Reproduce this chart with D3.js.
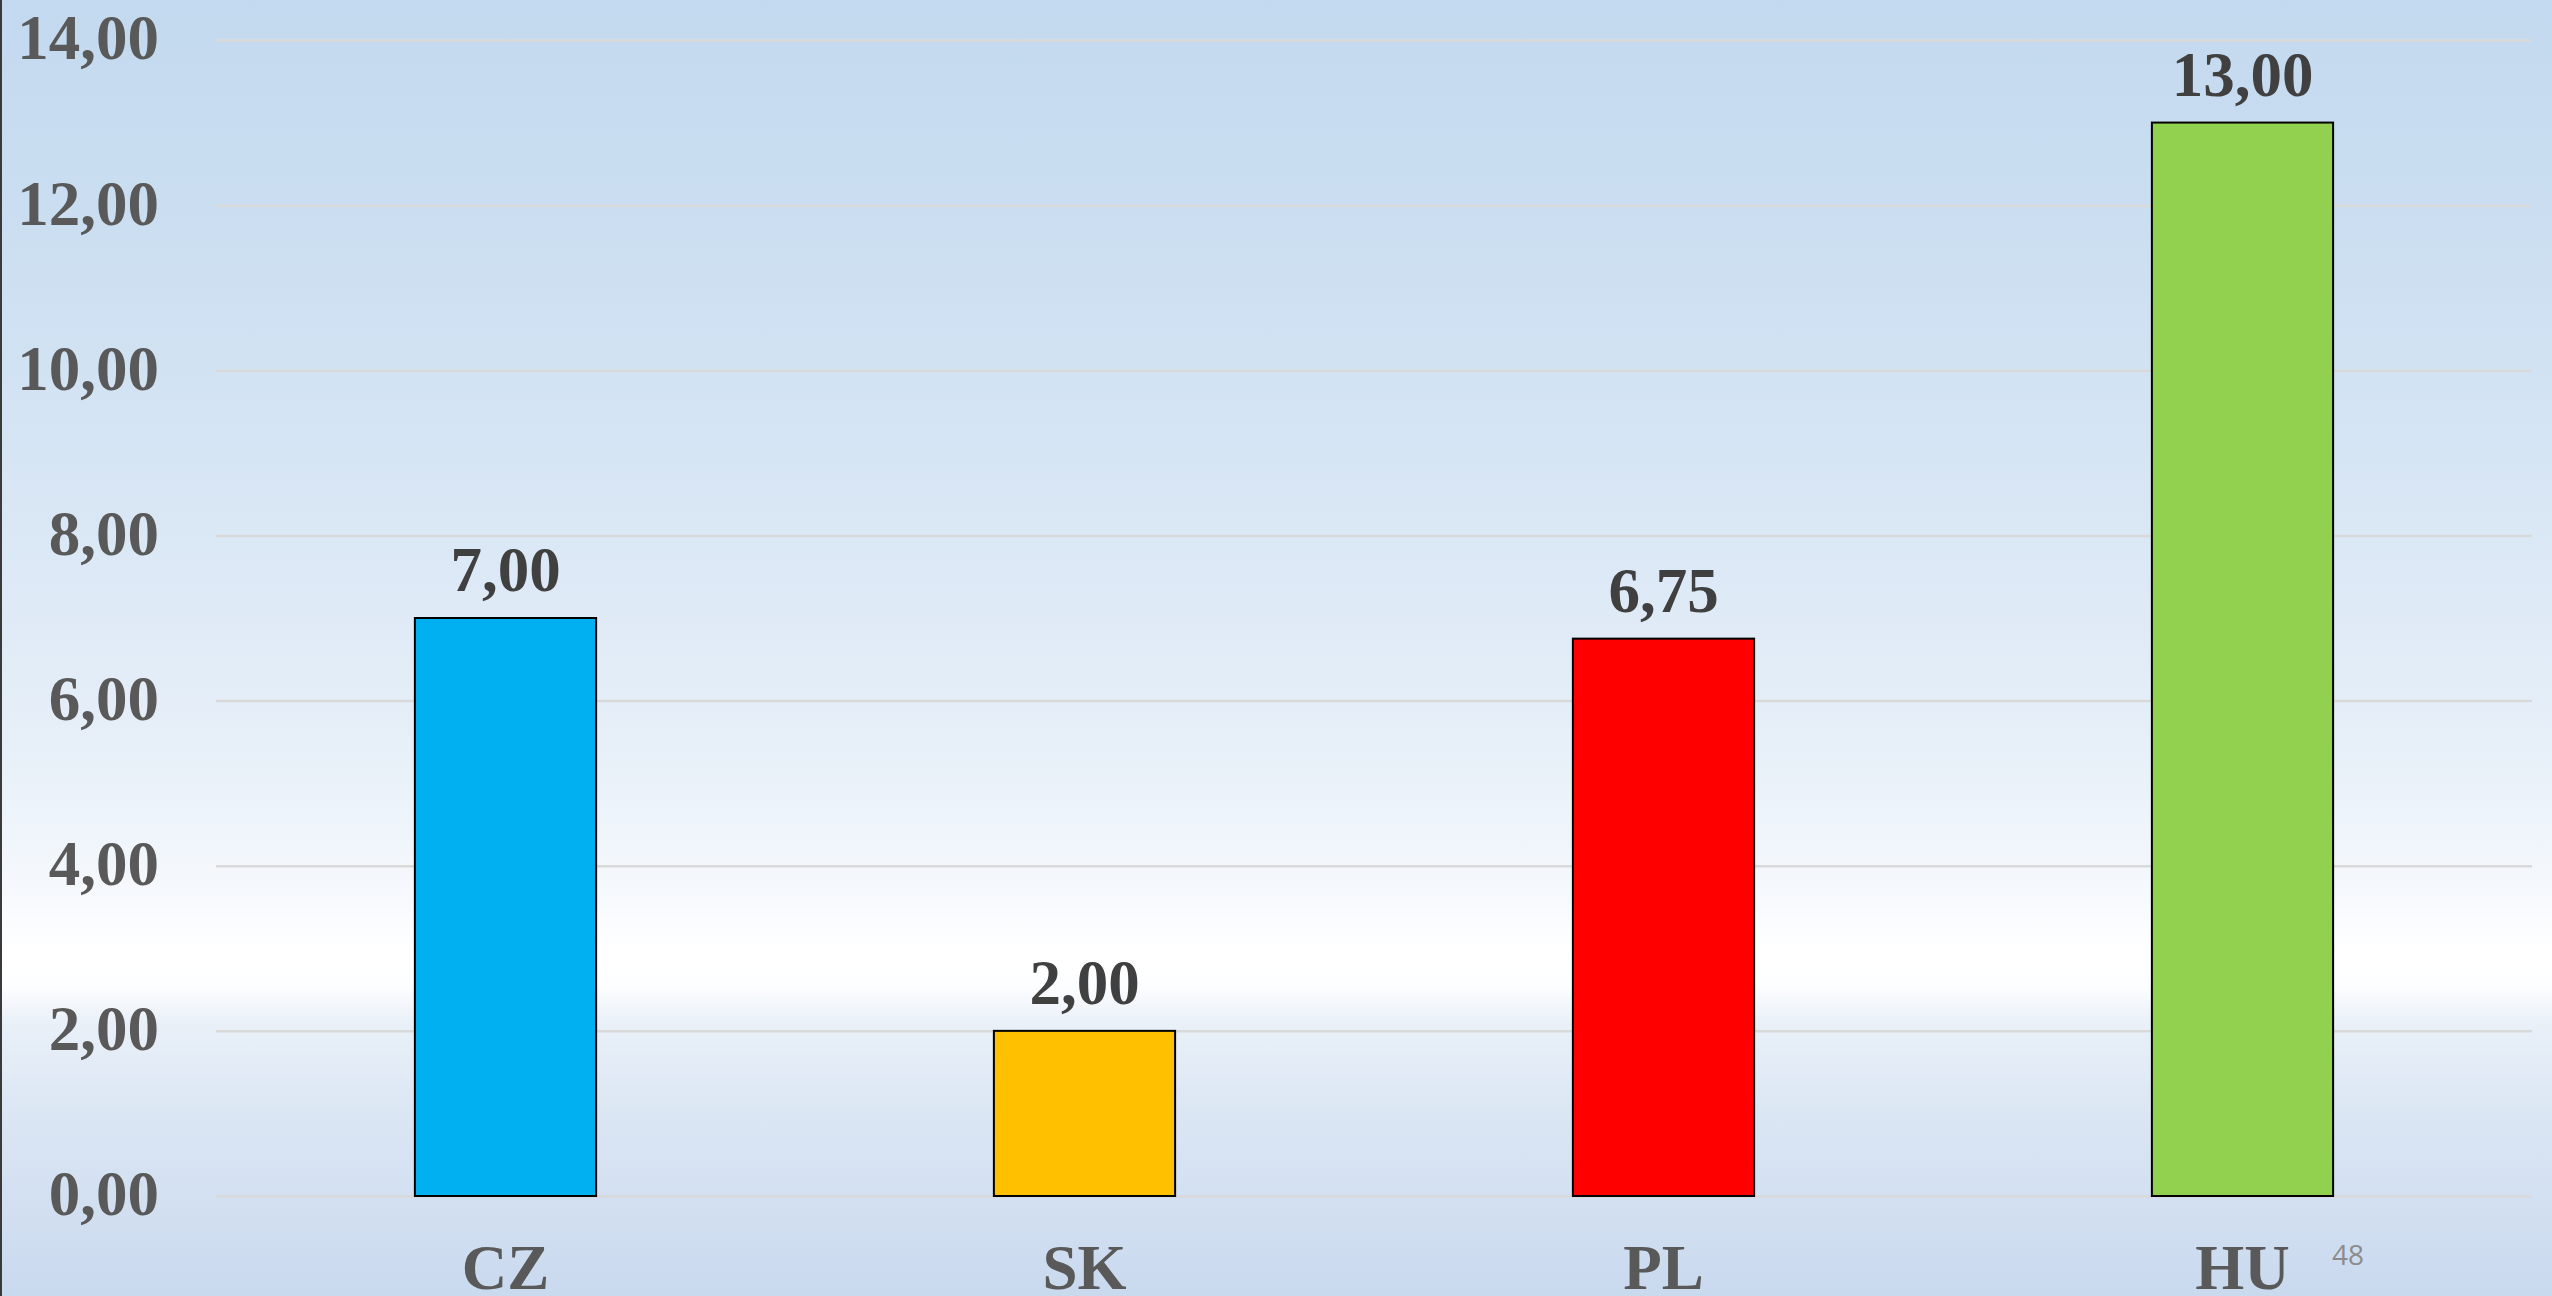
<!DOCTYPE html>
<html>
<head>
<meta charset="utf-8">
<script src="https://cdn.jsdelivr.net/npm/d3@7"></script>
<style>
  html, body { margin: 0; padding: 0; background: #ffffff; }
  svg { display: block; }
</style>
</head>
<body>
<script>
// Chart data
const categories = ["CZ", "SK", "PL", "HU"];
const values = [7.00, 2.00, 6.75, 13.00];
const barColors = ["#00B0F0", "#FFC000", "#FF0000", "#92D050"];
const yTicks = [0, 2, 4, 6, 8, 10, 12, 14];
const pageNumber = "48";

const W = 2552, H = 1296;
const plot = { left: 216, right: 2532, top: 40, bottom: 1196 };
const fontSize = 63;

const locale = d3.formatLocale({ decimal: ",", thousands: " ", grouping: [3], currency: ["", ""] });
const fmt = locale.format(".2f");

const svg = d3.select("body").append("svg")
  .attr("width", W).attr("height", H);

// Slide background gradient
const defs = svg.append("defs");
const grad = defs.append("linearGradient")
  .attr("id", "bg").attr("x1", 0).attr("y1", 0).attr("x2", 0).attr("y2", 1);
[
  [0.00, "#c3d9ef"],
  [0.25, "#cfe1f2"],
  [0.45, "#dde9f6"],
  [0.60, "#e9f1f9"],
  [0.69, "#f6f9fd"],
  [0.735, "#ffffff"],
  [0.76, "#fdfeff"],
  [0.79, "#e9f0f8"],
  [0.86, "#dbe6f4"],
  [1.00, "#c9d9ee"]
].forEach(([o, c]) => grad.append("stop").attr("offset", o).attr("stop-color", c));

svg.append("rect").attr("width", W).attr("height", H).attr("fill", "url(#bg)");
svg.append("rect").attr("x", 0).attr("y", 0).attr("width", 2).attr("height", H).attr("fill", "#3a3a3a");

const x = d3.scaleBand()
  .domain(categories)
  .range([plot.left, plot.right])
  .paddingInner(0.687)
  .paddingOuter(0.3435);

const y = d3.scaleLinear()
  .domain([0, 14])
  .range([plot.bottom, plot.top]);

const serif = "'Liberation Serif', 'Times New Roman', serif";

// Value axis with gridlines
const yAxis = svg.append("g")
  .attr("transform", `translate(${plot.left},0)`)
  .call(d3.axisLeft(y)
    .tickValues(yTicks)
    .tickFormat(fmt)
    .tickSizeInner(-(plot.right - plot.left))
    .tickSizeOuter(0)
    .tickPadding(57));
yAxis.select(".domain").remove();
yAxis.selectAll(".tick line")
  .attr("stroke", "#d9d9d9")
  .attr("stroke-width", 2.5);
yAxis.selectAll(".tick text")
  .attr("fill", "#595959")
  .attr("font-family", serif)
  .attr("font-weight", "bold")
  .attr("font-size", fontSize)
  .attr("dy", "0.30em");

// Bars
svg.append("g").selectAll("rect")
  .data(categories)
  .join("rect")
  .attr("x", d => x(d))
  .attr("width", x.bandwidth())
  .attr("y", (d, i) => y(values[i]))
  .attr("height", (d, i) => y(0) - y(values[i]))
  .attr("fill", (d, i) => barColors[i])
  .attr("stroke", "#000000")
  .attr("stroke-width", 2);

// Value labels
svg.append("g").selectAll("text")
  .data(categories)
  .join("text")
  .attr("x", d => x(d) + x.bandwidth() / 2)
  .attr("y", (d, i) => y(values[i]) - 27)
  .attr("text-anchor", "middle")
  .attr("fill", "#404040")
  .attr("font-family", serif)
  .attr("font-weight", "bold")
  .attr("font-size", fontSize)
  .text((d, i) => fmt(values[i]));

// Category axis
const xAxis = svg.append("g")
  .attr("transform", `translate(0,${plot.bottom})`)
  .call(d3.axisBottom(x).tickSize(0).tickPadding(48));
xAxis.select(".domain").remove();
xAxis.selectAll(".tick text")
  .attr("fill", "#595959")
  .attr("font-family", serif)
  .attr("font-weight", "bold")
  .attr("font-size", fontSize);

// Slide number
svg.append("text")
  .attr("x", 2332)
  .attr("y", 1265)
  .attr("fill", "#8c8c8c")
  .attr("font-family", "'Open Sans', 'Liberation Sans', sans-serif")
  .attr("font-size", 28)
  .text(pageNumber);
</script>
</body>
</html>
